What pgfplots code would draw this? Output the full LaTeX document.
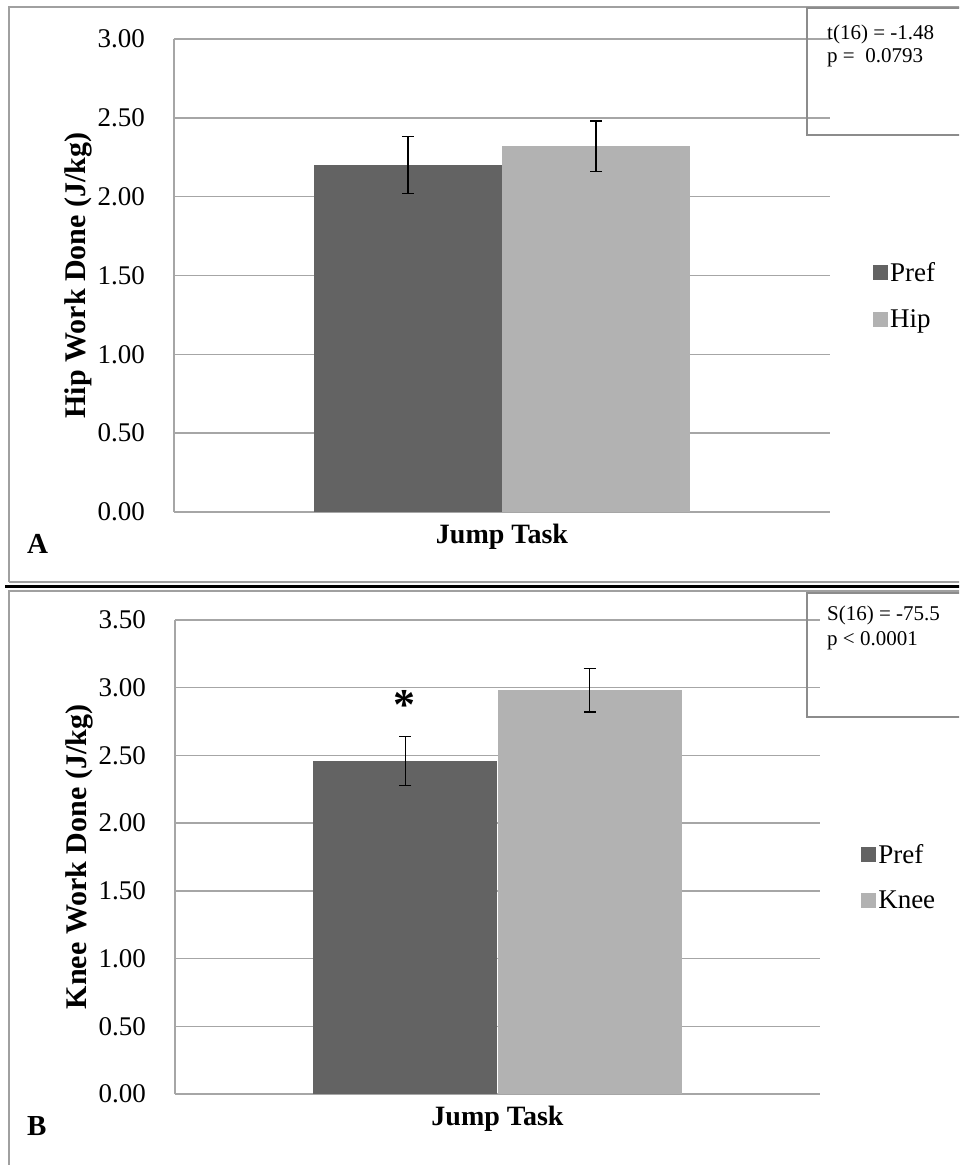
\documentclass[border=0pt]{standalone}
\usepackage{pgfplots}
\pgfplotsset{compat=1.18}
\usepackage{fontspec}
\setmainfont{Liberation Serif}
\definecolor{pref}{HTML}{636363}
\definecolor{cond}{HTML}{B2B2B2}
\definecolor{gridgray}{HTML}{A6A6A6}
\definecolor{framegray}{HTML}{A0A0A0}
\definecolor{boxgray}{HTML}{8C8C8C}
\pgfplotsset{
  panel/.style={
    scale only axis, xmin=-1, xmax=1, ymin=0,
    xtick=\empty,
    axis x line*=bottom, axis y line*=left,
    axis line style={draw=gridgray, line width=1.4pt},
    ymajorgrids, grid style={draw=gridgray, line width=1.4pt},
    major tick length=0pt,
    /pgf/number format/assume math mode=true,
    yticklabel={\pgfmathprintnumber[fixed,fixed zerofill,precision=2]{\tick}},
    yticklabel style={font=\fontsize{27}{30}\selectfont, inner sep=0pt, xshift=-29pt},
    every axis x label/.style={at={(axis description cs:0.5,0)}, anchor=base, yshift=-31pt,
      font=\bfseries\fontsize{28}{32}\selectfont},
    every axis y label/.style={at={(axis description cs:0,0.5)}, xshift=-96pt, rotate=90, anchor=center,
      font=\bfseries\fontsize{30}{34}\selectfont},
    legend style={draw=none, fill=none, font=\fontsize{27}{30}\selectfont, anchor=west, cells={anchor=west}},
    clip=false,
  },
  ebar/.style={error bars/.cd, y dir=both, y explicit,
    error bar style={black, line width=1.3pt},
    error mark options={rotate=90, mark size=6pt, line width=1.3pt, black}},
}
\begin{document}
\begin{tikzpicture}
\clip (0pt,0pt) rectangle (959pt,-1165pt);
\useasboundingbox (0pt,0pt) rectangle (959pt,-1165pt);
% panel frames
\draw[framegray, line width=2pt] (9pt,-582pt) -- (9pt,-7pt) -- (975pt,-7pt);
\draw[framegray, line width=2pt] (9pt,-582pt) -- (975pt,-582pt);
\draw[black, line width=2.5pt] (5pt,-586.5pt) -- (975pt,-586.5pt);
\draw[framegray, line width=2pt] (9pt,-1175pt) -- (9pt,-591pt) -- (975pt,-591pt);

% ---------- Panel A ----------
\begin{axis}[panel, at={(174pt,-512pt)}, anchor=south west,
  width=656pt, height=473pt, ymax=3, ytick={0,0.5,1,1.5,2,2.5,3},
  ylabel={Hip Work Done (J/kg)}, xlabel={Jump Task},
  legend style={at={(1.061,0.4567)}, row sep=23pt}]
\addplot[ybar, bar width=188pt, bar shift=0pt, fill=pref, draw=none,
  legend image code/.code={\fill[pref] (0pt,-7.5pt) rectangle (15pt,7.5pt);}, ebar]
  coordinates {(-0.2866,2.20) +- (0,0.18)};
\addlegendentry{Pref}
\addplot[ybar, bar width=188pt, bar shift=0pt, fill=cond, draw=none,
  legend image code/.code={\fill[cond] (0pt,-7.5pt) rectangle (15pt,7.5pt);}, ebar]
  coordinates {(0.2866,2.32) +- (0,0.16)};
\addlegendentry{Hip}
\end{axis}
\draw[boxgray, line width=1.5pt] (807pt,-8pt) rectangle (975pt,-135pt);
\node[anchor=base west, inner sep=0pt, font=\fontsize{21}{24}\selectfont]
  at (827pt,-39pt) {t(16) = -1.48};
\node[anchor=base west, inner sep=0pt, font=\fontsize{21}{24}\selectfont]
  at (827pt,-62pt) {p =~~0.0793};
\node[anchor=base west, inner sep=0pt, font=\bfseries\fontsize{29}{32}\selectfont]
  at (27pt,-553pt) {A};

% ---------- Panel B ----------
\begin{axis}[panel, at={(175pt,-1094pt)}, anchor=south west,
  width=645pt, height=474pt, ymax=3.5, ytick={0,0.5,1,1.5,2,2.5,3,3.5},
  ylabel={Knee Work Done (J/kg)}, xlabel={Jump Task},
  legend style={at={(1.059,0.4568)}, row sep=22pt}]
\addplot[ybar, bar width=184pt, bar shift=0pt, fill=pref, draw=none,
  legend image code/.code={\fill[pref] (0pt,-7.5pt) rectangle (15pt,7.5pt);}, ebar]
  coordinates {(-0.2853,2.46) +- (0,0.18)};
\addlegendentry{Pref}
\addplot[ybar, bar width=184pt, bar shift=0pt, fill=cond, draw=none,
  legend image code/.code={\fill[cond] (0pt,-7.5pt) rectangle (15pt,7.5pt);}, ebar]
  coordinates {(0.2853,2.98) +- (0,0.16)};
\addlegendentry{Knee}
\node[font=\bfseries\fontsize{44}{48}\selectfont] at (axis cs:-0.287,2.87) {*};
\end{axis}
\draw[boxgray, line width=1.5pt] (807pt,-593pt) rectangle (975pt,-717pt);
\node[anchor=base west, inner sep=0pt, font=\fontsize{21}{25}\selectfont]
  at (827pt,-620pt) {S(16) = -75.5};
\node[anchor=base west, inner sep=0pt, font=\fontsize{21}{25}\selectfont]
  at (827pt,-645pt) {p < 0.0001};
\node[anchor=base west, inner sep=0pt, font=\bfseries\fontsize{29}{32}\selectfont]
  at (27pt,-1135pt) {B};
\end{tikzpicture}
\end{document}
